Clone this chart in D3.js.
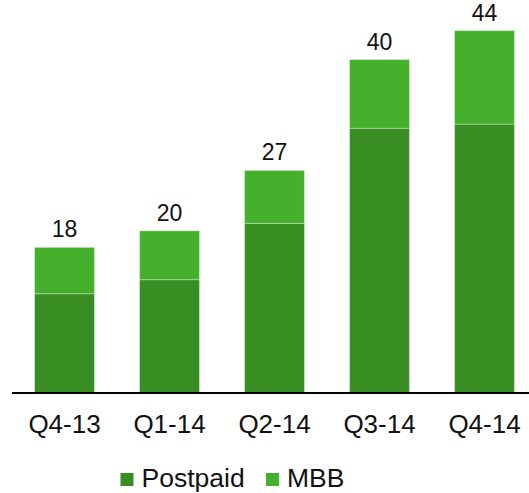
<!DOCTYPE html>
<html>
<head>
<meta charset="utf-8">
<script src="https://cdn.jsdelivr.net/npm/d3@7"></script>
<style>
    body {margin: 0; background: #fff;}
    svg text {font-family: "Liberation Sans", Arial, sans-serif; fill: #111;}
    .x-axis path {stroke: #000; stroke-width: 2;}
    .total-label {font-size: 23px;}
    .legend text {font-size: 26.5px;}
</style>
</head>
<body>
<div id="chart"></div>
<script>
    let quarters = ["Q4-13", "Q1-14", "Q2-14", "Q3-14", "Q4-14"];
    let postpaid = [12.0, 13.7, 20.5, 32.0, 32.5];
    let mbb = [5.6, 5.9, 6.4, 8.3, 11.3];
    let seriesNames = ["Postpaid", "MBB"];
    let seriesColors = ["#388e23", "#45b02c"];

    let width = 529, height = 493;
    let baseline = 393;

    let data = quarters.map(function(q, i) {
        return {quarter: q, Postpaid: postpaid[i], MBB: mbb[i]};
    });

    let x = d3.scaleBand()
        .domain(quarters)
        .range([12, 537])
        .paddingInner(0.43)
        .paddingOuter(0.215);

    let y = d3.scaleLinear()
        .domain([0, 44])
        .range([baseline, 29]);

    let svg = d3.select("#chart")
        .append("svg")
        .attr("width", width)
        .attr("height", height);

    let stacked = d3.stack().keys(seriesNames)(data);

    svg.selectAll("g.series")
        .data(stacked)
        .enter().append("g")
        .attr("class", "series")
        .style("fill", function(d, i) { return seriesColors[i]; })
        .selectAll("rect")
        .data(function(d) { return d; })
        .enter().append("rect")
        .attr("x", function(d) { return x(d.data.quarter); })
        .attr("width", x.bandwidth())
        .attr("y", function(d) { return y(d[1]); })
        .attr("height", function(d) { return y(d[0]) - y(d[1]); })
        .style("stroke", "rgba(255,255,255,0.3)")
        .style("stroke-width", 1);

    // totals above bars
    svg.selectAll(".total-label")
        .data(data)
        .enter().append("text")
        .attr("class", "total-label")
        .attr("x", function(d) { return x(d.quarter) + x.bandwidth() / 2; })
        .attr("y", function(d) { return y(d.Postpaid + d.MBB) - 10; })
        .attr("text-anchor", "middle")
        .text(function(d) { return d3.format(".0f")(d.Postpaid + d.MBB); });

    let xAxis = d3.axisBottom(x).tickSize(0).tickSizeOuter(0);

    let axisG = svg.append("g")
        .attr("class", "x-axis")
        .attr("transform", "translate(0," + baseline + ")")
        .call(xAxis);
    axisG.select(".domain").attr("d", "M12,0H" + width);
    axisG.selectAll("text")
        .attr("y", 40)
        .attr("dy", 0)
        .style("fill", "#111")
        .style("font-family", "'Liberation Sans', Arial, sans-serif")
        .style("font-size", "26px");

    // legend
    let legendX = [120.5, 266];
    let legend = svg.append("g").attr("class", "legend");
    seriesNames.forEach(function(name, i) {
        legend.append("rect")
            .attr("x", legendX[i])
            .attr("y", 473)
            .attr("width", 13)
            .attr("height", 13)
            .style("fill", seriesColors[i]);
        legend.append("text")
            .attr("x", legendX[i] + 21)
            .attr("y", 487)
            .text(name);
    });
</script>
</body>
</html>
